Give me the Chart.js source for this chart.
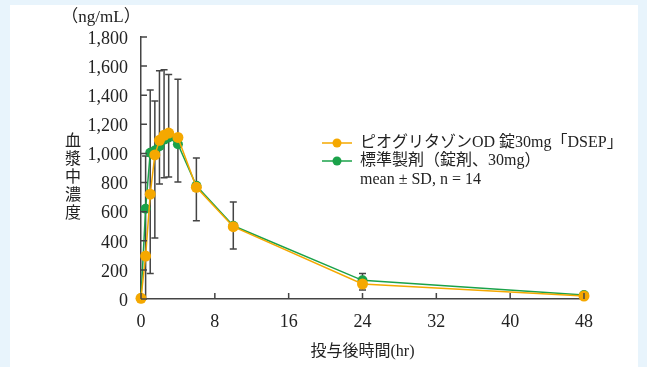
<!DOCTYPE html>
<html>
<head>
<meta charset="utf-8">
<script src="https://cdn.jsdelivr.net/npm/chart.js@4"></script>
<style>
  html, body { margin: 0; padding: 0; background: #e8f4fc; }
  #wrap { width: 647px; height: 367px; }
</style>
</head>
<body>
<div id="wrap"><canvas id="pkChart" width="647" height="367"></canvas></div>
<script>
// sampling times (hr)
const times = [0, 0.5, 1, 1.5, 2, 2.5, 3, 4, 6, 10, 24, 48];
// mean plasma concentration (ng/mL)
const pioMean = [5, 295, 720, 990, 1090, 1125, 1140, 1110, 767, 497, 103, 20];
const refMean = [5, 620, 1005, 1020, 1050, 1095, 1110, 1063, 778, 503, 128, 28];
// error bar ends (SD)
const barHigh = [null, 982, 1436, 1360, 1568, 1575, 1543, 1509, 968, 666, 176, null];
const barLow = [null, 0, 176, 419, 790, 833, 838, 803, 538, 343, 62, null];

const seriesLabels = ["ピオグリタゾンOD 錠30mg「DSEP」", "標準製剤（錠剤、30mg）"];
const noteText = "mean ± SD, n = 14";
const yUnit = "（ng/mL）";
const yTitle = "血漿中濃度";
const xTitle = "投与後時間(hr)";

const orange = "#f5a800";
const green = "#1ba24a";
const ink = "#222";
const FONT = '"Liberation Serif", "Noto Sans CJK JP", serif';

function toPoints(ys) {
	return times.map((t, i) => ({ x: t, y: ys[i] }));
}

// light blue frame with white panel
const panelBg = {
	id: "panelBg",
	beforeDraw(chart) {
		const g = chart.ctx;
		g.save();
		g.fillStyle = "#e8f4fc";
		g.fillRect(0, 0, chart.width, chart.height);
		g.fillStyle = "#ffffff";
		g.fillRect(10, 5, 628, chart.height - 5);
		g.restore();
	},
};

// SD whiskers, drawn under the lines
const errorBars = {
	id: "errorBars",
	beforeDatasetsDraw(chart) {
		const g = chart.ctx;
		const xs = chart.scales.x;
		const ys = chart.scales.y;
		g.save();
		g.strokeStyle = "#444";
		g.lineWidth = 1.5;
		times.forEach((t, i) => {
			if (barHigh[i] == null) return;
			const x = xs.getPixelForValue(t);
			const top = ys.getPixelForValue(barHigh[i]);
			const bot = ys.getPixelForValue(barLow[i]);
			g.beginPath();
			g.moveTo(x, top);
			g.lineTo(x, bot);
			g.moveTo(x - 3.5, top);
			g.lineTo(x + 3.5, top);
			if (barLow[i] > 0) {
				g.moveTo(x - 3.5, bot);
				g.lineTo(x + 3.5, bot);
			}
			g.stroke();
		});
		g.restore();
	},
};

// inward ticks, vertical y title, unit label and legend
const decorations = {
	id: "decorations",
	afterDraw(chart) {
		const g = chart.ctx;
		const xs = chart.scales.x;
		const ys = chart.scales.y;
		const area = chart.chartArea;
		g.save();
		g.strokeStyle = "#444";
		g.lineWidth = 1.5;
		g.beginPath();
		ys.ticks.forEach((tk) => {
			const y = ys.getPixelForValue(tk.value);
			g.moveTo(area.left, y);
			g.lineTo(area.left + 6, y);
		});
		xs.ticks.forEach((tk) => {
			const x = xs.getPixelForValue(tk.value);
			g.moveTo(x, area.bottom);
			g.lineTo(x, area.bottom - 6);
		});
		g.stroke();

		g.fillStyle = ink;
		g.font = "17px " + FONT;
		g.textAlign = "center";
		g.textBaseline = "middle";
		g.fillText(yUnit, 101, 18);

		g.font = "16px " + FONT;
		[...yTitle].forEach((ch, i) => {
			g.fillText(ch, 73, 142 + i * 18);
		});

		// legend
		const rows = [
			{ color: orange, label: seriesLabels[0], y: 143 },
			{ color: green, label: seriesLabels[1], y: 161 },
		];
		g.font = "16px " + FONT;
		g.textAlign = "left";
		rows.forEach((r) => {
			g.strokeStyle = r.color;
			g.lineWidth = 1.5;
			g.beginPath();
			g.moveTo(322, r.y);
			g.lineTo(352, r.y);
			g.stroke();
			g.fillStyle = r.color;
			g.beginPath();
			g.arc(337, r.y, 4.5, 0, Math.PI * 2);
			g.fill();
			g.fillStyle = ink;
			g.fillText(r.label, 360, r.y);
		});
		g.fillText(noteText, 360, 180);
		g.restore();
	},
};

const ctx = document.getElementById("pkChart");
const chart = new Chart(ctx, {
	type: "line",
	data: {
		datasets: [
			{
				label: seriesLabels[0],
				data: toPoints(pioMean),
				borderColor: orange,
				backgroundColor: orange,
				borderWidth: 1.5,
				pointRadius: 5.5,
				pointBorderWidth: 0,
				tension: 0,
				clip: false,
			},
			{
				label: seriesLabels[1],
				data: toPoints(refMean),
				borderColor: green,
				backgroundColor: green,
				borderWidth: 1.5,
				pointRadius: 5,
				pointBorderWidth: 0,
				tension: 0,
				clip: false,
			},
		],
	},
	options: {
		responsive: false,
		animation: false,
		layout: { padding: { left: 0, right: 63, top: 37, bottom: 0 } },
		plugins: {
			legend: { display: false },
			tooltip: { enabled: false },
		},
		scales: {
			x: {
				type: "linear",
				min: 0,
				max: 48,
				grid: { display: false, drawTicks: false },
				border: { display: true, color: "#444", width: 1.5 },
				ticks: {
					stepSize: 8,
					padding: 12,
					color: ink,
					font: { family: FONT, size: 18 },
				},
				title: {
					display: true,
					text: xTitle,
					color: ink,
					font: { family: FONT, size: 16 },
					padding: { top: 0, bottom: 6 },
				},
				afterFit: (scale) => {
					scale.height = 68;
				},
			},
			y: {
				min: 0,
				max: 1800,
				grid: { display: false, drawTicks: false },
				border: { display: true, color: "#444", width: 1.5 },
				ticks: {
					stepSize: 200,
					padding: 13,
					labelOffset: 2,
					color: ink,
					font: { family: FONT, size: 18 },
					callback: (v) => v.toLocaleString("en-US"),
				},
				afterFit: (scale) => {
					scale.width = 141;
				},
			},
		},
	},
	plugins: [panelBg, errorBars, decorations],
});
</script>
</body>
</html>
